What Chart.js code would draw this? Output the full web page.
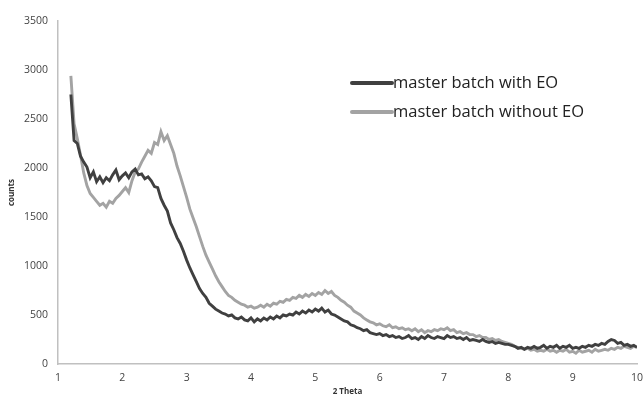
<!DOCTYPE html>
<html>
<head>
<meta charset="utf-8">
<script src="https://cdn.jsdelivr.net/npm/chart.js@4/dist/chart.umd.min.js"></script>
<style>
html,body{margin:0;padding:0;background:#fff;}
#wrap{width:644px;height:397px;position:relative;}
</style>
</head>
<body>
<div id="wrap"><canvas id="c" width="644" height="397"></canvas></div>
<script>
const theta = [
1.20,1.25,1.30,1.35,1.40,1.45,1.50,1.55,1.60,1.65,1.70,1.75,1.80,1.85,1.90,1.95,
2.00,2.05,2.10,2.15,2.20,2.25,2.30,2.35,2.40,2.45,2.50,2.55,2.60,2.65,2.70,2.75,2.80,2.85,2.90,2.95,
3.00,3.05,3.10,3.15,3.20,3.25,3.30,3.35,3.40,3.45,3.50,3.55,3.60,3.65,3.70,3.75,3.80,3.85,3.90,3.95,
4.00,4.05,4.10,4.15,4.20,4.25,4.30,4.35,4.40,4.45,4.50,4.55,4.60,4.65,4.70,4.75,4.80,4.85,4.90,4.95,
5.00,5.05,5.10,5.15,5.20,5.25,5.30,5.35,5.40,5.45,5.50,5.55,5.60,5.65,5.70,5.75,5.80,5.85,5.90,5.95,
6.00,6.05,6.10,6.15,6.20,6.25,6.30,6.35,6.40,6.45,6.50,6.55,6.60,6.65,6.70,6.75,6.80,6.85,6.90,6.95,
7.00,7.05,7.10,7.15,7.20,7.25,7.30,7.35,7.40,7.45,7.50,7.55,7.60,7.65,7.70,7.75,7.80,7.85,7.90,7.95,
8.00,8.05,8.10,8.15,8.20,8.25,8.30,8.35,8.40,8.45,8.50,8.55,8.60,8.65,8.70,8.75,8.80,8.85,8.90,8.95,
9.00,9.05,9.10,9.15,9.20,9.25,9.30,9.35,9.40,9.45,9.50,9.55,9.60,9.65,9.70,9.75,9.80,9.85,9.90,9.95,
10.00
];
const withEO = [
2750,2280,2250,2120,2060,2010,1900,1960,1860,1910,1850,1900,1870,1930,1980,1880,
1920,1950,1900,1960,1990,1930,1940,1890,1910,1870,1810,1800,1690,1620,1560,1440,1370,1290,1230,1150,
1060,980,910,840,770,720,680,620,590,560,540,520,510,490,500,470,460,480,450,440,
470,430,460,440,470,450,480,460,490,470,500,490,510,500,530,510,540,520,550,530,
560,540,570,530,550,510,500,480,460,440,430,400,390,370,360,340,350,320,310,300,
310,290,300,280,290,270,280,260,270,290,260,270,250,280,260,290,270,260,280,270,
260,290,270,280,260,270,250,270,240,250,240,230,250,230,220,230,210,220,210,200,
200,190,180,160,170,150,170,160,180,160,170,190,160,180,170,190,160,180,170,190,
160,170,160,180,170,190,180,200,190,210,200,230,250,240,210,220,190,200,180,190,
170
];
const withoutEO = [
2940,2450,2300,2130,1950,1820,1740,1700,1660,1620,1640,1600,1660,1640,1690,1720,
1760,1800,1750,1870,1960,1990,2060,2120,2180,2150,2260,2240,2370,2280,2330,2240,2150,2020,1920,1810,
1700,1580,1490,1400,1300,1200,1110,1040,970,900,840,790,740,700,680,650,630,610,600,580,
590,570,580,600,580,610,590,620,610,640,630,660,650,680,670,700,680,710,690,720,
700,730,710,750,720,740,700,680,650,630,600,580,540,520,500,470,450,430,420,400,
410,390,380,400,370,380,360,370,350,360,340,360,330,350,320,340,330,350,340,360,
350,370,340,350,320,330,310,320,300,300,280,290,270,270,250,260,240,250,230,220,
210,200,180,170,160,150,160,140,150,130,140,130,150,130,140,120,140,130,150,120,
130,110,140,120,130,140,120,150,130,140,150,140,160,150,170,160,180,170,160,180,
170
];
const seriesNames = ["master batch with EO", "master batch without EO"];
const xTicks = [1,2,3,4,5,6,7,8,9,10];
const yTicks = [0,500,1000,1500,2000,2500,3000,3500];

const colors = ["#404040", "#a3a3a3"];
const FONT = "'Open Sans', 'Liberation Sans', sans-serif";

const legendPlugin = {
  id: 'innerLegend',
  afterDraw(chart) {
    const ctx = chart.ctx;
    ctx.save();
    chart.data.datasets.forEach((ds, i) => {
      const y = 83 + i * 29;
      ctx.strokeStyle = ds.borderColor;
      ctx.lineWidth = 4;
      ctx.lineCap = 'round';
      ctx.beginPath();
      ctx.moveTo(352, y);
      ctx.lineTo(392, y);
      ctx.stroke();
      ctx.fillStyle = '#222';
      ctx.font = "16.5px " + FONT;
      ctx.textBaseline = 'middle';
      ctx.textAlign = 'left';
      ctx.fillText(ds.label, 393, y);
    });
    ctx.restore();
  }
};

const mk = (vals) => theta.map((t, i) => ({x: t, y: vals[i]}));

new Chart(document.getElementById('c'), {
  type: 'line',
  data: {
    datasets: [
      {label: seriesNames[0], data: mk(withEO), borderColor: colors[0], borderWidth: 2.9, pointRadius: 0, tension: 0, fill: false},
      {label: seriesNames[1], data: mk(withoutEO), borderColor: colors[1], borderWidth: 2.9, pointRadius: 0, tension: 0, fill: false}
    ]
  },
  options: {
    responsive: false,
    animation: false,
    devicePixelRatio: 1,
    layout: {padding: {top: 21, right: 7, left: 0, bottom: 0}},
    plugins: {legend: {display: false}, tooltip: {enabled: false}},
    scales: {
      x: {
        type: 'linear', min: 1, max: 10,
        afterBuildTicks: (s) => { s.ticks = xTicks.map(v => ({value: v})); },
        afterFit: (s) => { s.height = 33; s.paddingLeft = 0; s.paddingRight = 0; },
        grid: {display: false, drawTicks: false},
        border: {display: true, color: '#c0c0c0', width: 1.5},
        ticks: {padding: 8, color: '#444', font: {family: FONT, size: 10.5}, maxRotation: 0, autoSkip: false, callback: (v) => String(v)},
        title: {display: true, text: '2 Theta', color: '#333', font: {family: FONT, size: 8, weight: 'bold'}, padding: {top: 0, bottom: 0}}
      },
      y: {
        min: 0, max: 3500,
        afterBuildTicks: (s) => { s.ticks = yTicks.map(v => ({value: v})); },
        afterFit: (s) => { s.width = 58; s.paddingTop = 0; s.paddingBottom = 0; },
        grid: {display: false, drawTicks: false},
        border: {display: true, color: '#c0c0c0', width: 1.5},
        ticks: {padding: 10, color: '#444', font: {family: FONT, size: 10.5}, callback: (v) => String(v)},
        title: {display: true, text: 'counts', color: '#333', font: {family: FONT, size: 8, weight: 'bold'}, padding: {top: 7, bottom: 0}}
      }
    }
  },
  plugins: [legendPlugin]
});
</script>
</body>
</html>
